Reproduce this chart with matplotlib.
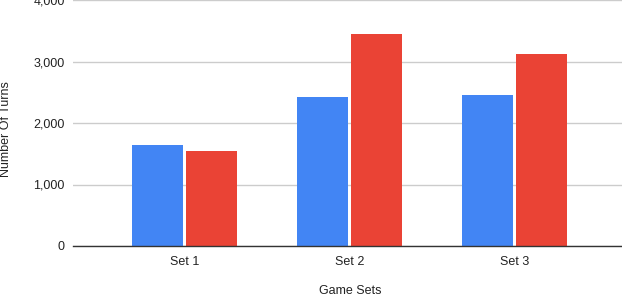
import numpy as np
import matplotlib
matplotlib.use("Agg")
import matplotlib.pyplot as plt

categories = ["Set 1", "Set 2", "Set 3"]
series_a = [1640, 2420, 2455]
series_b = [1545, 3445, 3120]
y_ticks = [0, 1000, 2000, 3000, 4000]
y_tick_labels = ["0", "1,000", "2,000", "3,000", "4,000"]

plt.rcParams["font.family"] = ["Liberation Sans", "DejaVu Sans"]

fig = plt.figure(figsize=(6.22, 2.96), dpi=100)
ax = fig.add_axes([73 / 622, 1 - 246 / 296, 549 / 622, 246 / 296])

x = np.arange(len(categories))
w = 0.307
off = 0.164
ax.bar(x - off, series_a, width=w, color="#4285F4", zorder=3)
ax.bar(x + off, series_b, width=w, color="#EA4335", zorder=3)

ax.set_xlim(-0.676, 2.65)
ax.set_ylim(0, 4000)
ax.set_yticks(y_ticks)
ax.set_yticklabels(y_tick_labels)
ax.set_xticks(x)
ax.set_xticklabels(categories)
ax.tick_params(axis="both", length=0, labelsize=9, colors="#222222")
ax.tick_params(axis="y", pad=6)
ax.tick_params(axis="x", pad=7)

ax.grid(axis="y", color="#cccccc", linewidth=1, zorder=0)
for s in ["top", "right", "left"]:
    ax.spines[s].set_visible(False)
ax.spines["bottom"].set_color("#333333")
ax.spines["bottom"].set_linewidth(1)
ax.spines["bottom"].set_zorder(4)

fig.text(6 / 622, 1 - 129.5 / 296, "Number Of Turns", rotation=90,
         ha="center", va="center", fontsize=9, color="#222222")
fig.text(350 / 622, 1 - 291 / 296, "Game Sets", ha="center", va="center",
         fontsize=9, color="#222222")

fig.savefig("out.png", dpi=100)
